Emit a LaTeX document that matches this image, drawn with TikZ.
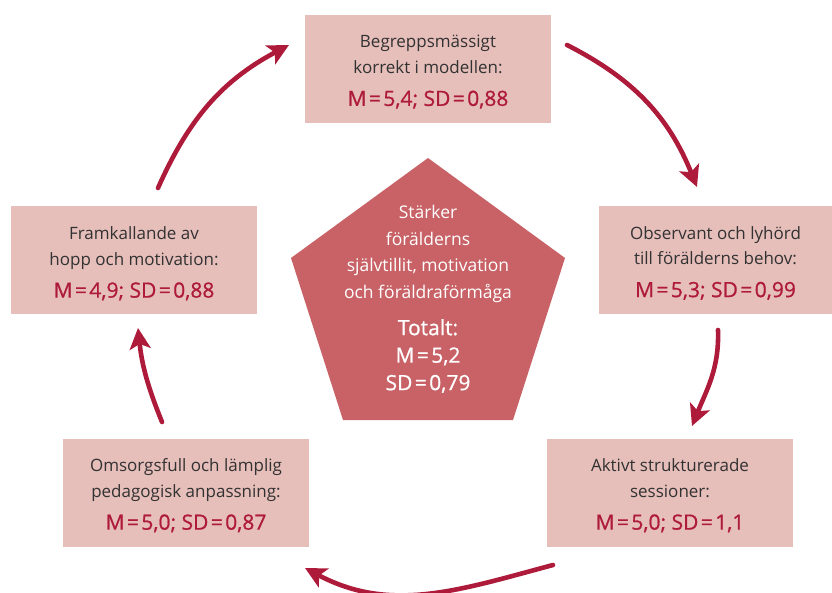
\documentclass[tikz,border=0pt]{standalone}
\usepackage{fontspec}
\setmainfont{Open Sans}
\newfontfamily\medfont[FakeBold=0.8]{Open Sans}
\usetikzlibrary{arrows.meta}
\definecolor{boxfill}{RGB}{230,190,186}
\definecolor{pentfill}{RGB}{200,98,102}
\definecolor{accent}{RGB}{174,26,58}
\definecolor{bodytext}{RGB}{50,50,50}
\newcommand{\eqs}{\kern2.4pt=\kern2.4pt}
\tikzset{
  box/.style={fill=boxfill, draw=none, minimum width=246pt, minimum height=108pt, inner sep=0pt},
  boxtext/.style={align=center, text=bodytext, font=\fontsize{17}{25.5}\selectfont, inner sep=0pt},
  cyc/.style={draw=accent, line width=4.6pt, line cap=round,
    -{Stealth[length=21pt,width=21pt,inset=5pt]}},
}
\newcommand{\valtext}[1]{\\[7pt]{\color{accent}\medfont\fontsize{21}{20}\selectfont #1}}
\begin{document}
\begin{tikzpicture}[x=1pt,y=-1pt]
\useasboundingbox (0,0) rectangle (832,593);
% pentagon
\fill[pentfill] (428,158) -- (565,258) -- (513,420) -- (343,420) -- (291,258) -- cycle;
\node[text=white, align=center, font=\fontsize{17.5}{26.6}\selectfont] (pt) at (428,254)
  {Stärker\\förälderns\\självtillit, motivation\\och föräldraförmåga};
\node[text=white, align=center, font=\medfont\fontsize{21}{27.5}\selectfont] (tot) at (428,356)
  {Totalt:\\M\eqs5,2\\SD\eqs0,79};
% boxes
\node[box] (top) at (428,69) {};
\node[box, minimum width=233pt] (right) at (715.5,260) {};
\node[box] (rbot) at (670,492.5) {};
\node[box] (lbot) at (186,492.5) {};
\node[box] (left) at (134,260.5) {};
\node[boxtext] (top-t) at ([yshift=-3pt]top.center) {Begreppsmässigt\\korrekt i modellen:\valtext{M\eqs5,4; SD\eqs0,88}};
\node[boxtext] (right-t) at ([yshift=-3pt]right.center) {Observant och lyhörd\\till förälderns behov:\valtext{M\eqs5,3; SD\eqs0,99}};
\node[boxtext] (rbot-t) at ([yshift=-3pt]rbot.center) {Aktivt strukturerade\\sessioner:\valtext{M\eqs5,0; SD\eqs1,1}};
\node[boxtext] (lbot-t) at ([yshift=-3pt]lbot.center) {Omsorgsfull och lämplig\\pedagogisk anpassning:\valtext{M\eqs5,0; SD\eqs0,87}};
\node[boxtext] (left-t) at ([yshift=-3pt]left.center) {Framkallande av\\hopp och motivation:\valtext{M\eqs4,9; SD\eqs0,88}};
% arrow end points
\coordinate (a1s) at (567,45);  \coordinate (a1e) at (697,187);
\coordinate (a2s) at (718,330); \coordinate (a2e) at (692,426);
\coordinate (a3s) at (553,565); \coordinate (a3e) at (305,568);
\coordinate (a4s) at (162,422); \coordinate (a4e) at (138,328);
\coordinate (a5s) at (158,188); \coordinate (a5e) at (289,45);
\draw[cyc] (a1s) to[out=-27,in=112] (a1e);
\draw[cyc] (a2s) to[out=-88,in=68] (a2e);
\draw[cyc] (a3s) to[out=195,in=-28] (a3e);
\draw[cyc] (a4s) to[out=112,in=-84] (a4e);
\draw[cyc] (a5s) to[out=66,in=208] (a5e);
\end{tikzpicture}
\end{document}
